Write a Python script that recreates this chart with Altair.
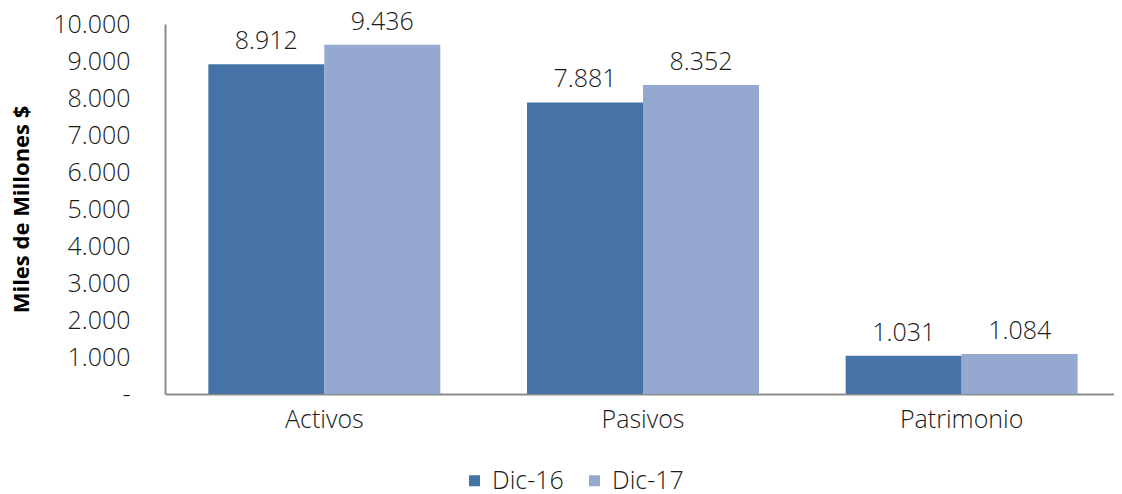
import altair as alt
import pandas as pd

categories = ["Activos", "Pasivos", "Patrimonio"]
series = ["Dic-16", "Dic-17"]
dic16 = [8912, 7881, 1031]
dic17 = [9436, 8352, 1084]
colors = ["#4573A7", "#95A9D0"]

rows = []
for c, a, b in zip(categories, dic16, dic17):
    rows.append({"cat": c, "serie": "Dic-16", "valor": a})
    rows.append({"cat": c, "serie": "Dic-17", "valor": b})
df = pd.DataFrame(rows)

FONT = "Open Sans"
W, H = 949, 370

base = alt.Chart(df).encode(
    x=alt.X("cat:N", sort=categories,
            scale=alt.Scale(paddingInner=0.272, paddingOuter=0.136, range=[0, 956]),
            axis=alt.Axis(title=None, labelAngle=0, ticks=False, labelFontSize=25,
                          labelFont=FONT, labelColor="#1a1a1a", labelPadding=13,
                          domainColor="#8c8c8c", domainWidth=2, labelFontWeight=300)),
    xOffset=alt.XOffset("serie:N", sort=series),
    y=alt.Y("valor:Q", scale=alt.Scale(domain=[0, 10000]),
            axis=alt.Axis(title="Miles de Millones $", values=list(range(0, 10001, 1000)),
                          labelExpr="datum.value == 0 ? '-' : replace(format(datum.value, ','), /,/g, '.')",
                          grid=False, ticks=False, labelPadding=35, labelFontSize=25,
                          labelFont=FONT, labelColor="#1a1a1a", labelFontWeight=300,
                          domainColor="#8c8c8c", domainWidth=2,
                          titleFont=FONT, titleFontSize=22, titleFontWeight="bold",
                          titleColor="#000000", titleAngle=-90, titleX=-144, titleY=185,
                          titleAlign="center", titleBaseline="middle")),
)

bars = base.mark_bar().encode(
    color=alt.Color("serie:N", sort=series,
                    scale=alt.Scale(domain=series, range=colors),
                    legend=alt.Legend(title=None, orient="none", legendX=297, legendY=444,
                                      direction="horizontal", symbolType="square",
                                      symbolSize=121, symbolStrokeWidth=0,
                                      labelFont=FONT, labelFontSize=25, labelFontWeight=300,
                                      labelColor="#1a1a1a", columnPadding=18, labelOffset=5))
)

labels = base.mark_text(baseline="bottom", dy=-10, font=FONT, fontSize=25,
                        fontWeight=300, color="#1a1a1a").transform_calculate(
    lbl="replace(format(datum.valor, ','), /,/g, '.')"
).encode(text="lbl:N")

chart = (bars + labels).properties(
    width=W, height=H,
    autosize=alt.AutoSizeParams(type="none"),
    padding={"left": 157, "top": 16, "right": 0, "bottom": 102},
).configure_view(stroke=None)

chart.save("out.html", embed_options={"renderer": "svg", "actions": False})
